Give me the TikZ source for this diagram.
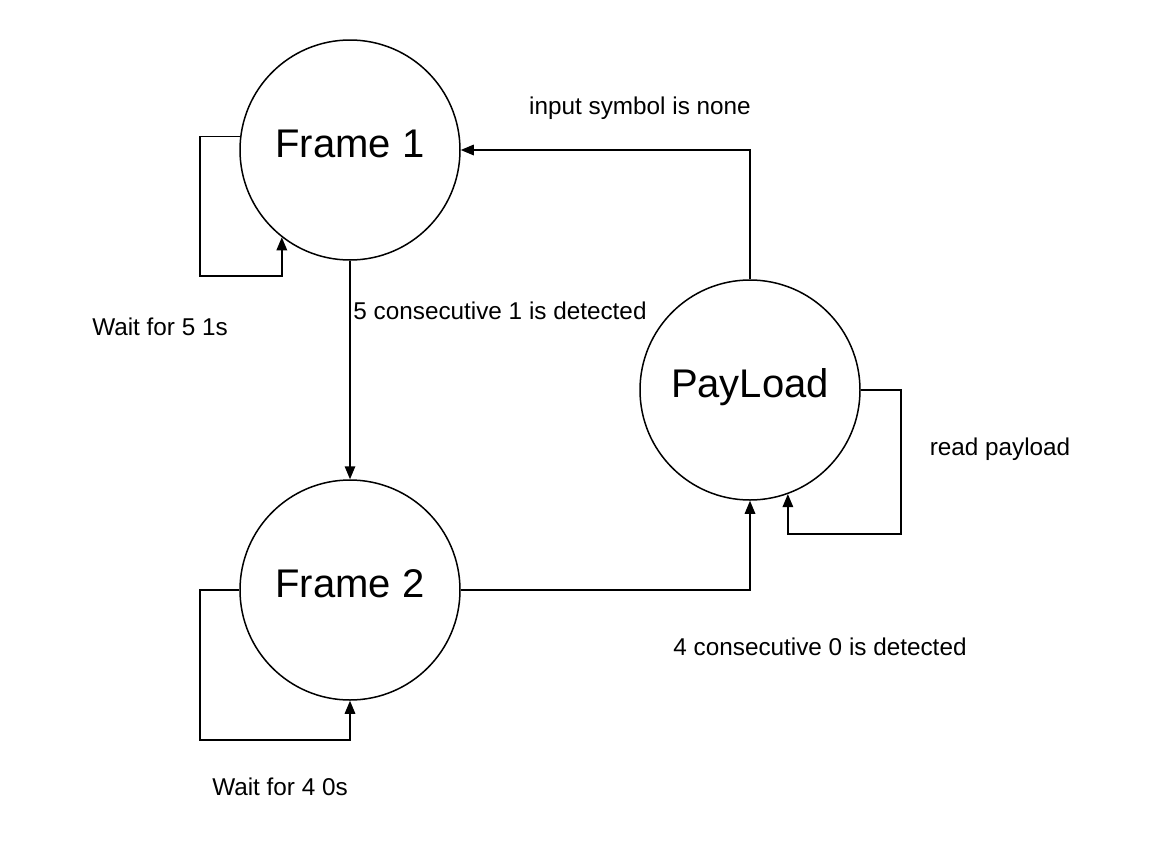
\documentclass[tikz,border=0pt]{standalone}
\usepackage{fontspec}
\setmainfont{Liberation Sans}
\usetikzlibrary{arrows.meta}
\begin{document}
\begin{tikzpicture}[x=1pt,y=-1pt,
  state/.style={draw,circle,line width=1.5pt,minimum size=220pt,inner sep=0pt,
    font=\fontsize{40}{44}\selectfont,text height=14pt,text depth=0pt},
  lab/.style={inner sep=0pt,font=\fontsize{24.3}{28}\selectfont,text height=17pt,text depth=0pt},
  arr/.style={line width=1.5pt,-{Triangle[length=13pt,width=10.5pt]}}]
\fill[white] (0,0) rectangle (1160,860);
\useasboundingbox (0,0) rectangle (1160,860);
\node[state] (f1) at (350,150) {Frame 1};
\node[state] (f2) at (350,590) {Frame 2};
\node[state] (p) at (750,390) {PayLoad};
\coordinate (c1) at (200,276);
\coordinate (c2) at (200,740);
\coordinate (c3) at (901,534);
\draw[arr] (f1.173) -| (c1) -| (f1.232);
\draw[arr] (f1.south) -- (f2.north);
\draw[arr] (f2.west) -| (c2) -| (f2.south);
\draw[arr] (f2.east) -| (p.south);
\draw[arr] (p.north) |- (f1.east);
\draw[arr] (p.east) -| (c3) -| (p.290);
\node[lab] (l1) at (640,106) {input symbol is none};
\node[lab] (l2) at (500,311) {5 consecutive 1 is detected};
\node[lab] (l3) at (160,327) {Wait for 5 1s};
\node[lab] (l4) at (1000,447) {read payload};
\node[lab] (l5) at (820,647) {4 consecutive 0 is detected};
\node[lab] (l6) at (280,787) {Wait for 4 0s};
\end{tikzpicture}
\end{document}
